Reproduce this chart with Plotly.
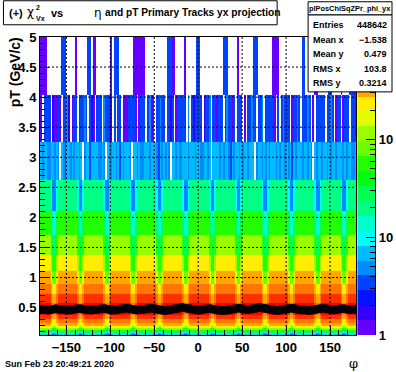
import colorsys
import math
import plotly.graph_objects as go

# ---------------- data ----------------
PHI_EDGES = list(range(-180, 181, 2))          # 2-degree phi bins
PT_EDGES = [0.0440, 0.0546, 0.0677, 0.0839, 0.1041, 0.1291, 0.1601, 0.1985,
            0.2461, 0.3052, 0.3785, 0.4693, 0.5820, 0.7216, 0.8948, 1.1096,
            1.3759, 1.7061, 2.1156, 2.6233, 3.2529, 4.0337, 5.0018]

# colour level (0..19 of the 20 log-z contours) per dense pT row
ROW_BASE_LEVEL = [5, 6, 7, 9, 11, 13, 15, 16, 17, 18, 19, 19, 18, 17, 16, 15, 13, 11, 8]
ROW_DIP_DEPTH = [1, 1, 1, 1, 1, 1, 1, 1, 1, 1, 1, 1, 1, 1, 2, 2, 2, 2, 2]
COL_DIP = ("000000122100000000000122100000"
           "000000122100000000000122100000"
           "000000122100000000000122100000"
           "000000122100000000000122100000"
           "000000122100000000000122100000"
           "000000122100000000000122100000")
# sparse high-pT rows, '.' = empty bin
ROW_19 = ("5455445545" "4.54355454" "5545.45535" "5554454.54" "4554535455" "54.5545445"
          "5545554354" "5454.55454" "4555455545" "5445545.55" "5545455435" "4554545545"
          "55.4554545" "4555454554" "5453545554" "55454.5455" "4554545545" "5545455445")
ROW_20 = ("0.3333.100" "30.3341.03" "3.03343.31" "0.333.4333" "1.3.33.000" "33330.0333"
          ".3403.3343" "3.3313.033" "333.4.3133" "33.1334.33" "0333.34330" "3.333.0.33"
          "433.334.33" "3330.3.343" "33.03343.3" "3343.0.333" "33.3343.03" "3.0333.330")
ROW_21 = ("0000......" "..333....." "0......33." "00........" "0.333....." "...0000000"
          ".........." "..33300..." "..0......3" "3........." "....333..." "..0......."
          ".333......" "..0000...." ".........3" "3.....00.." "....33...." ".0....3300")

PROFILE_PHI = list(range(-178, 180, 4))
PROFILE_PT = [0.47, 0.47, 0.46, 0.47, 0.48, 0.47, 0.47, 0.46, 0.46, 0.47,
              0.48, 0.48, 0.47, 0.47, 0.46, 0.47, 0.47, 0.48, 0.48, 0.47,
              0.46, 0.46, 0.47, 0.48, 0.49, 0.48, 0.47, 0.46, 0.47, 0.47,
              0.48, 0.49, 0.48, 0.47, 0.46, 0.45, 0.46, 0.47, 0.48, 0.49,
              0.50, 0.49, 0.48, 0.47, 0.46, 0.46, 0.47, 0.48, 0.48, 0.47,
              0.46, 0.45, 0.45, 0.46, 0.47, 0.48, 0.49, 0.48, 0.47, 0.47,
              0.48, 0.49, 0.50, 0.49, 0.48, 0.47, 0.46, 0.45, 0.46, 0.47,
              0.48, 0.49, 0.48, 0.47, 0.46, 0.46, 0.45, 0.46, 0.47, 0.48,
              0.49, 0.48, 0.47, 0.46, 0.47, 0.48, 0.48, 0.47, 0.47, 0.47]

Z_MAX = 1120.0
N_LEVELS = 20
X_TICKS = [-150, -100, -50, 0, 50, 100, 150]
Y_TICKS = [0.5, 1.0, 1.5, 2.0, 2.5, 3.0, 3.5, 4.0, 4.5]
Z_TICKS = [1, 10, 100]
Z_TICKTEXT = ["1", "10", "10"]
STATS = [("Entries", "448642"), ("Mean x", "\u22121.538"), ("Mean y", "0.479"),
         ("RMS x", "103.8"), ("RMS y", "0.3214")]

# ---------------- build ----------------
LOGMAX = math.log10(Z_MAX)
STEP = LOGMAX / N_LEVELS

level_rows = []
for k in range(len(ROW_BASE_LEVEL)):
    level_rows.append([ROW_BASE_LEVEL[k] - ROW_DIP_DEPTH[k] * int(ch) for ch in COL_DIP])
for s in (ROW_19, ROW_20, ROW_21):
    level_rows.append([None if ch == "." else int(ch, 36) for ch in s])

counts = [[None if L is None else 10 ** ((L + 0.5) * STEP) for L in row] for row in level_rows]
zlog = [[None if c is None else math.log10(c) for c in row] for row in counts]

# ROOT "pretty palette" (violet -> red, HLS), 20 contours
pal = []
for i in range(N_LEVELS):
    idx = int((i + 0.99) * 50 / N_LEVELS)
    hue = 280 - (idx + 1) * 5.6
    r, g, b = colorsys.hls_to_rgb(hue / 360.0, 0.5, 1.0)
    pal.append("rgb(%d,%d,%d)" % (round(r * 255), round(g * 255), round(b * 255)))
cscale = []
for i, c in enumerate(pal):
    cscale.append([i / N_LEVELS, c])
    cscale.append([(i + 1) / N_LEVELS, c])

W, H = 396, 372
L_M, T_M, B_M = 39.6, 37.2, 37.2
PW = W - L_M
PH = H - T_M - B_M


def fx(px):
    return (px - L_M) / PW


def fy(py):
    return (H - B_M - py) / PH


FONT = "Liberation Sans"
fig = go.Figure()
fig.add_trace(go.Heatmap(x=PHI_EDGES, y=PT_EDGES, z=zlog, zmin=0, zmax=LOGMAX,
                         colorscale=cscale, showscale=False, hoverinfo="skip",
                         xaxis="x", yaxis="y"))
fig.add_trace(go.Scatter(x=PROFILE_PHI, y=PROFILE_PT, mode="markers",
                         marker=dict(color="black", size=9, symbol="circle"),
                         error_y=dict(type="constant", value=0.03, color="black",
                                      thickness=1.5, width=0),
                         showlegend=False, hoverinfo="skip", xaxis="x", yaxis="y"))
# palette
pal_edges = [10 ** (i * STEP) for i in range(N_LEVELS + 1)]
pal_z = [[(i + 0.5) * STEP] for i in range(N_LEVELS)]
fig.add_trace(go.Heatmap(x=[0, 1], y=pal_edges, z=pal_z, zmin=0, zmax=LOGMAX,
                         colorscale=cscale, showscale=False, hoverinfo="skip",
                         xaxis="x2", yaxis="y2"))

tickfont = dict(family=FONT, size=13, color="black", weight="bold")
fig.update_layout(
    width=W, height=H, autosize=False,
    margin=dict(l=L_M, r=0, t=T_M, b=B_M, pad=0),
    paper_bgcolor="white", plot_bgcolor="white", showlegend=False,
    xaxis=dict(domain=[0, fx(356.4)], range=[-180, 180], tickvals=X_TICKS,
               ticks="inside", ticklen=9, tickcolor="black", tickfont=tickfont,
               minor=dict(ticks="inside", ticklen=5, dtick=10, tick0=0, tickcolor="black"),
               showline=True, linecolor="black", linewidth=1, mirror=True,
               showgrid=False, zeroline=False, anchor="y"),
    yaxis=dict(domain=[0, 1], range=[0.044, 5.0], tickvals=Y_TICKS + [5.0],
               ticktext=["0.5", "1", "1.5", "2", "2.5", "3", "3.5", "4", "4.5", "5"],
               ticks="inside", ticklen=9, tickcolor="black", tickfont=tickfont,
               minor=dict(ticks="inside", ticklen=5, dtick=0.1, tick0=0, tickcolor="black"),
               showline=True, linecolor="black", linewidth=1, mirror=True,
               showgrid=False, zeroline=False, anchor="x"),
    xaxis2=dict(domain=[fx(357.2), fx(375.2)], range=[0, 1], visible=False, anchor="y2"),
    yaxis2=dict(domain=[0, 1], anchor="x2", side="right", type="log", range=[0, LOGMAX],
                tickvals=Z_TICKS, ticktext=Z_TICKTEXT, ticks="inside", ticklen=9,
                tickcolor="black", tickfont=tickfont,
                minor=dict(ticks="inside", ticklen=5, tickcolor="black",
                           tickvals=[2, 3, 4, 5, 6, 7, 8, 9, 20, 30, 40, 50, 60, 70, 80, 90,
                                     200, 300, 400, 500, 600, 700, 800, 900]),
                showline=True, linecolor="black", linewidth=1, showgrid=False, zeroline=False),
)

shapes = []
for xv in X_TICKS:
    shapes.append(dict(type="line", xref="x", yref="paper", x0=xv, x1=xv, y0=0, y1=1,
                       line=dict(color="black", width=1, dash="2px,2px"), layer="above"))
for yv in Y_TICKS:
    shapes.append(dict(type="line", xref="paper", yref="y", x0=0, x1=fx(356.4), y0=yv, y1=yv,
                       line=dict(color="black", width=1, dash="2px,2px"), layer="above"))
# title box
shapes.append(dict(type="rect", xref="paper", yref="paper", x0=fx(3), x1=fx(277),
                   y0=fy(25), y1=fy(1), line=dict(color="black", width=1),
                   fillcolor="white", layer="above"))
# stats boxes
shapes.append(dict(type="rect", xref="paper", yref="paper", x0=fx(308), x1=fx(392),
                   y0=fy(92), y1=fy(15), line=dict(color="black", width=1),
                   fillcolor="white", layer="above"))
shapes.append(dict(type="rect", xref="paper", yref="paper", x0=fx(308), x1=fx(392),
                   y0=fy(15), y1=fy(2), line=dict(color="black", width=1),
                   fillcolor="white", layer="above"))
fig.update_layout(shapes=shapes)

ann = []


def text(px, py, s, size, anchor="left", bold=True, family=FONT, angle=0):
    ann.append(dict(xref="paper", yref="paper", x=fx(px), y=fy(py), text=s,
                    showarrow=False, xanchor=anchor, yanchor="middle", textangle=angle,
                    font=dict(family=family, size=size, color="black",
                              weight="bold" if bold else "normal")))


text(7, 13, "(+)", 11)
text(25, 12, "\u03c7", 12, bold=False, family="DejaVu Sans")
text(34, 8, "2", 7)
text(34, 19, "Vx", 7)
text(49, 13, "vs", 11)
text(92, 13, "\u03b7", 12, bold=False, family="DejaVu Sans")
text(103, 13, "and pT Primary Tracks yx projection", 10.2)
text(350, 8.5, "plPosChiSqZPr_phi_yx", 7.4, anchor="center")
ys = [25, 40, 54, 69, 83]
for (lab, val), yy in zip(STATS, ys):
    text(311, yy, lab, 9)
    text(389, yy, val, 9, anchor="right")
text(14, 72, "pT (GeV/c)", 14, anchor="center", angle=-90)
text(353, 363, "\u03c6", 13, anchor="center", bold=False, family="DejaVu Serif")
text(3, 364, "Sun Feb 23 20:49:21 2020", 9)
fig.update_layout(annotations=ann)

fig.write_html("out.html", config={"displayModeBar": False, "staticPlot": True},
               post_script="document.body.style.margin='0';document.body.style.overflow='hidden';")
